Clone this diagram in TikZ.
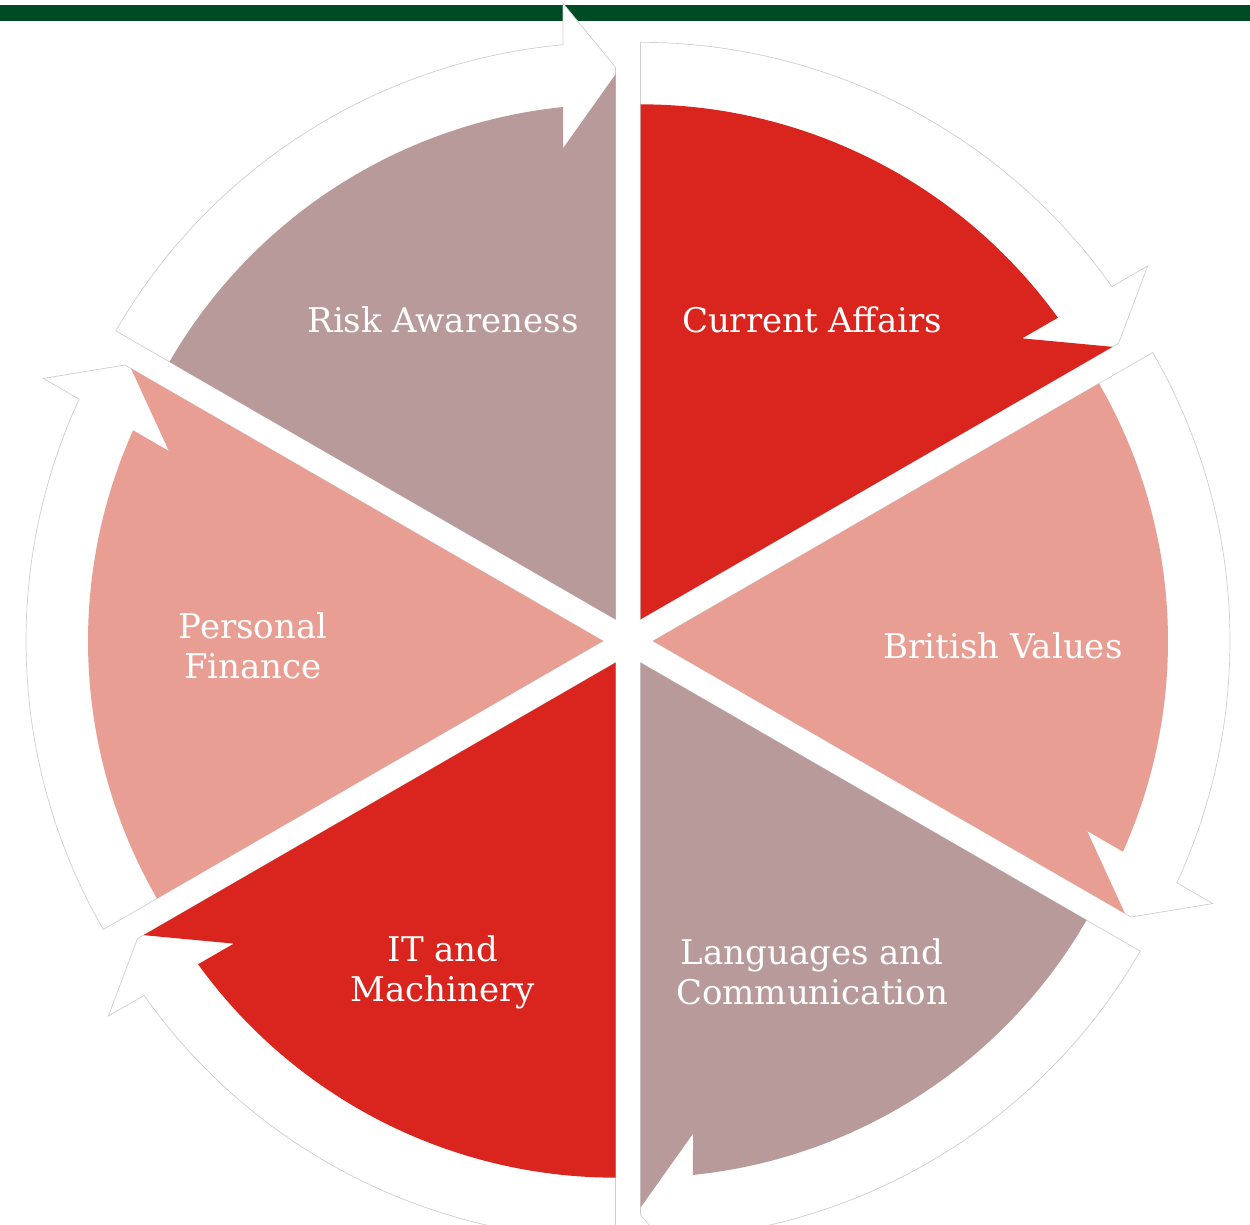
\documentclass[tikz,border=0pt]{standalone}
\usepackage{fontspec}
\setmainfont{DejaVu Serif}
\usetikzlibrary{positioning}
\definecolor{green1}{HTML}{004B23}
\definecolor{red1}{HTML}{DA251E}
\definecolor{rose1}{HTML}{B99A9A}
\definecolor{salmon1}{HTML}{E99E94}
\definecolor{gray1}{HTML}{CFCFCF}

\begin{document}
\begin{tikzpicture}[x=1pt, y=1pt,
    band/.style={fill=white, draw=gray1, line width=0.7pt},
    seglabel/.style={text=white, align=center,
                     font=\fontsize{34}{40}\selectfont},
]
\useasboundingbox (0,0) rectangle (1250,1224);
\fill[green1] (0,1203) rectangle (1250,1219);

% six exploded wedges, each with its white arrow band behind
\foreach \b/\col in {120/rose1, 60/red1, 0/salmon1,
                     -60/rose1, -120/red1, 180/salmon1}{
  \begin{scope}[shift={(628,583)}, shift={(\b:25)}, rotate=\b-30]
    \draw[band] (0,0) -- (60:577)
        arc[start angle=60, end angle=5.22, radius=577]
        -- (616,52.5) -- (552,0) -- cycle;
    \fill[\col] (0,0) -- (60:515)
        arc[start angle=60, end angle=5.85, radius=515]
        -- (471,52.5) -- (545,0) -- cycle;
  \end{scope}
}

\node[seglabel] (risk)  at (443,904) {Risk Awareness};
\node[seglabel] (curr)  at (812,904) {Current Affairs};
\node[seglabel] (brit)  at (1003,578) {British Values};
\node[seglabel] (lang)  at (812,252) {Languages and\\Communication};
\node[seglabel] (itm)   at (443,252) {IT and\\Machinery};
\node[seglabel] (fin)   at (253,578) {Personal\\Finance};
\end{tikzpicture}
\end{document}
